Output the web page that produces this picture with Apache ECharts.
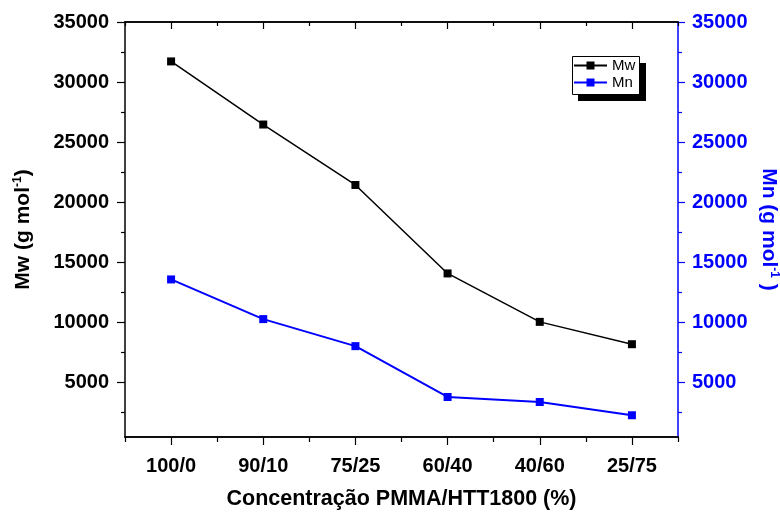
<!DOCTYPE html>
<html>
<head>
<meta charset="utf-8">
<script src="https://cdn.jsdelivr.net/npm/echarts@6/dist/echarts.min.js"></script>
<style>
  html, body { margin: 0; padding: 0; background: #fff; }
  #chart { width: 780px; height: 514px; }
</style>
</head>
<body>
<div id="chart"></div>
<script>
// Molar mass of PMMA/HTT1800 blends
const categories = ['100/0', '90/10', '75/25', '60/40', '40/60', '25/75'];
const mwValues = [31720, 26470, 21440, 14080, 10050, 8190];
const mnValues = [13580, 10280, 8030, 3800, 3380, 2280];
const majorTicks = [5000, 10000, 15000, 20000, 25000, 30000, 35000];
const minorTicks = [2500, 7500, 12500, 17500, 22500, 27500, 32500];

const AX_MIN = 470, AX_MAX = 35000;
const FONT = '"Liberation Sans", Arial, sans-serif';
const BLUE = '#0000ff';

const chart = echarts.init(document.getElementById('chart'), null, { renderer: 'canvas' });

function valueAxis(pos, color, withLabels, tickLen, ticks) {
  return {
    type: 'value', position: pos, min: AX_MIN, max: AX_MAX,
    splitLine: { show: false },
    axisLine: { show: withLabels, onZero: false, lineStyle: { color: color, width: 1.5 } },
    axisTick: { show: true, inside: false, length: tickLen, customValues: ticks,
                lineStyle: { color: color, width: 1.2 } },
    axisLabel: { show: withLabels, customValues: ticks, color: color,
                 formatter: v => String(v),
                 fontFamily: FONT, fontWeight: 'bold', fontSize: 20,
                 margin: pos === 'left' ? 16 : 14 }
  };
}

function nameRich(color) {
  return {
    rich: {
      t: { fontFamily: FONT, fontWeight: 'bold', fontSize: 21, color: color },
      s: { fontFamily: FONT, fontWeight: 'bold', fontSize: 12, color: color, verticalAlign: 'top', padding: [0, 0, 10, 0] }
    }
  };
}

const leftMajor = valueAxis('left', '#000', true, 8, majorTicks);
leftMajor.name = '{t|Mw (g mol}{s|-1}{t|)}';
leftMajor.nameLocation = 'middle';
leftMajor.nameGap = 91;
leftMajor.nameRotate = 90;
leftMajor.nameTextStyle = nameRich('#000');

const rightMajor = valueAxis('right', BLUE, true, 7, majorTicks);
rightMajor.name = '{t|Mn (g mol}{s|-1}{t| )}';
rightMajor.nameLocation = 'middle';
rightMajor.nameGap = 78;
rightMajor.nameRotate = -90;
rightMajor.nameTextStyle = nameRich(BLUE);

const leftMinor = valueAxis('left', '#000', false, 4, minorTicks);
const rightMinor = valueAxis('right', BLUE, false, 4, minorTicks);

function catAxis(pos, major, inside, len, withLabels) {
  return {
    type: 'category', data: categories, position: pos, boundaryGap: true,
    axisLine: { show: true, onZero: false, lineStyle: { color: '#000', width: 1.5 } },
    axisTick: { show: true, alignWithLabel: major, inside: inside, length: len,
                lineStyle: { color: '#000', width: 1.2 } },
    axisLabel: { show: withLabels, color: '#000', fontFamily: FONT, fontWeight: 'bold',
                 fontSize: 20, margin: 19 },
    splitLine: { show: false }
  };
}

const xBottom = catAxis('bottom', true, false, 8, true);
xBottom.name = 'Concentração PMMA/HTT1800 (%)';
xBottom.nameLocation = 'middle';
xBottom.nameGap = 51;
xBottom.nameTextStyle = { fontFamily: FONT, fontWeight: 'bold', fontSize: 21.5, color: '#000' };

const option = {
  backgroundColor: '#fff',
  animation: false,
  grid: { left: 125, right: 102, top: 22, bottom: 77, containLabel: false, outerBoundsMode: 'none' },
  // legend frame with a solid drop shadow
  graphic: [
    { type: 'rect', z: 1, shape: { x: 578, y: 63, width: 68, height: 38 }, style: { fill: '#000' } },
    { type: 'rect', z: 2, shape: { x: 572.5, y: 56.5, width: 67, height: 38 },
      style: { fill: '#fff', stroke: '#000', lineWidth: 1 } }
  ],
  legend: {
    data: ['Mw', 'Mn'],
    orient: 'vertical',
    left: 573, top: 58,
    padding: 0,
    itemGap: 2,
    itemWidth: 33, itemHeight: 10,
    z: 10,
    textStyle: { fontFamily: FONT, fontSize: 15, color: '#000' }
  },
  xAxis: [
    xBottom,
    catAxis('bottom', false, false, 5, false),
    catAxis('top', true, true, 7, false),
    catAxis('top', false, true, 4, false)
  ],
  yAxis: [leftMajor, rightMajor, leftMinor, rightMinor],
  series: [
    {
      name: 'Mw', type: 'line', xAxisIndex: 0, yAxisIndex: 0, data: mwValues,
      symbol: 'rect', symbolSize: 8, color: '#000',
      lineStyle: { color: '#000', width: 1.5 },
      itemStyle: { color: '#000' }
    },
    {
      name: 'Mn', type: 'line', xAxisIndex: 0, yAxisIndex: 1, data: mnValues,
      symbol: 'rect', symbolSize: 8, color: BLUE,
      lineStyle: { color: BLUE, width: 2 },
      itemStyle: { color: BLUE }
    }
  ]
};

chart.setOption(option);
</script>
</body>
</html>
